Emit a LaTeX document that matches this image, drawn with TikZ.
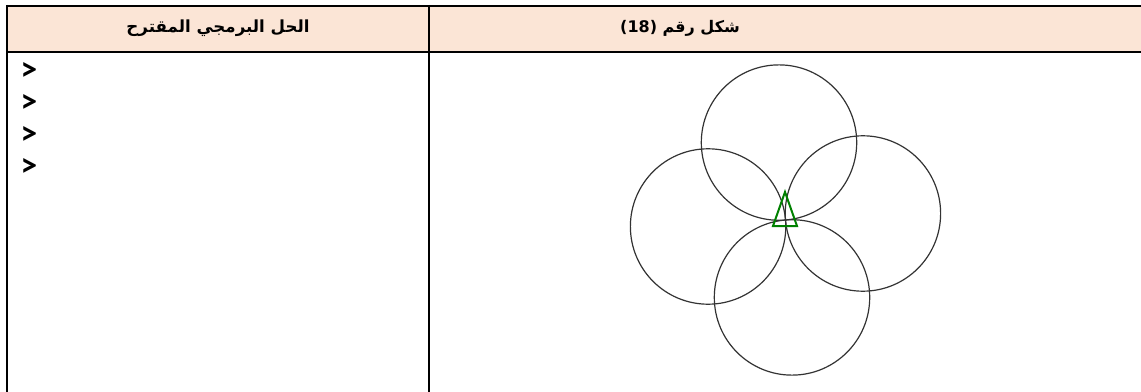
\documentclass[tikz,border=0pt]{standalone}
\usepackage{fontspec}
\setmainfont{DejaVu Sans}
\newfontfamily\arabicfont[Script=Arabic]{DejaVu Sans}
\newfontfamily\chevfont{Carlito}
\TeXXeTstate=1
\definecolor{headfill}{HTML}{FBE5D6}
\definecolor{turtlegreen}{HTML}{008000}
\begin{document}
\begin{tikzpicture}[x=0.75pt,y=-0.75pt]
\useasboundingbox (0,0) rectangle (1141,392);
\fill[headfill] (7,6) rectangle (1141,52);
\draw[line width=1.6pt] (7,6) -- (1141,6);
\draw[line width=1.6pt] (7,52) -- (1141,52);
\draw[line width=1.6pt] (7,5) -- (7,392);
\draw[line width=1.6pt] (429,5) -- (429,392);
\node[font=\arabicfont\bfseries\fontsize{12.5}{14}\selectfont] (hsol) at (218,28) {\beginR الحل البرمجي المقترح\endR};
\node[font=\arabicfont\bfseries\fontsize{12}{14}\selectfont] (hfig) at (680,28) {\beginR شكل رقم \beginL(18)\endL\endR};
\foreach \i/\y in {1/72,2/104,3/136,4/168}
  \node[font=\chevfont\bfseries\fontsize{25}{27}\selectfont] (b\i) at (29,\y) {>};
\coordinate (p) at (785.5,220);
\foreach \a in {-4.8,85.2,175.2,265.2}
  \draw[shift={(p)},black!80,line width=0.9pt] (\a:77.7) circle[radius=77.7];
\draw[turtlegreen,line width=1.5pt] (785,192) -- (797,226) -- (773,226) -- cycle;
\end{tikzpicture}
\end{document}
